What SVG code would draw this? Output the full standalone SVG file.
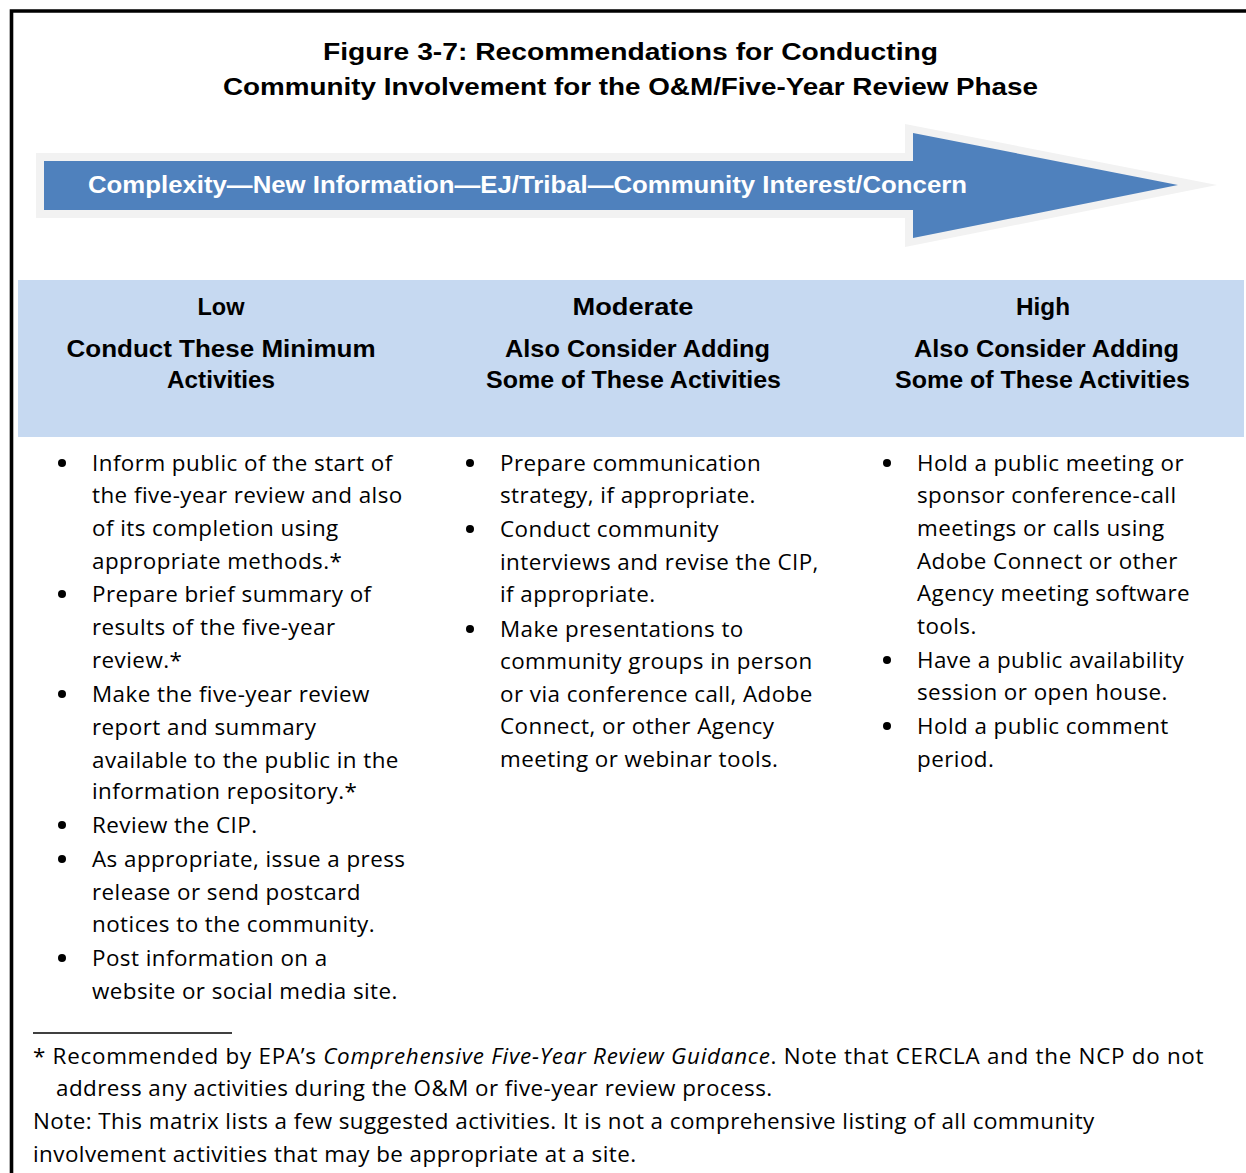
<svg xmlns="http://www.w3.org/2000/svg" width="1246" height="1173" viewBox="0 0 1246 1173">
<style>
.title{font-family:"Liberation Sans",Arial,sans-serif;font-weight:700;font-size:24.5px;fill:#000;text-anchor:middle}
.arrowtxt{font-family:"Liberation Sans",Arial,sans-serif;font-weight:700;font-size:24px;fill:#fff}
.hdr{font-family:"Liberation Sans",Arial,sans-serif;font-weight:700;font-size:24px;fill:#000;text-anchor:middle}
.body{font-family:"Open Sans",Lato,sans-serif;font-size:22.4px;letter-spacing:0.45px;fill:#000}
.foot{font-family:"Open Sans",Lato,sans-serif;font-size:22.4px;letter-spacing:0.45px;fill:#000}
.bul{fill:#000}
</style>
<rect width="1246" height="1173" fill="#fff"/>
<path d="M11.5 1173 V11 H1246" fill="none" stroke="#000" stroke-width="3.6"/>
<g id="title">
<text class="title" x="630.5" y="59.5" textLength="615" lengthAdjust="spacingAndGlyphs">Figure 3-7: Recommendations for Conducting</text>
<text class="title" x="630.5" y="94.5" textLength="815" lengthAdjust="spacingAndGlyphs">Community Involvement for the O&amp;M/Five-Year Review Phase</text>
</g>
<g id="arrow">
<polygon points="36,153 905,153 905,124 1217,185 905,247 905,218 36,218" fill="#f2f2f2"/>
<polygon points="44,161 913,161 913,133 1178,185 913,238 913,210 44,210" fill="#4f81bd"/>
<text class="arrowtxt" x="88" y="193" textLength="879" lengthAdjust="spacingAndGlyphs">Complexity—New Information—EJ/Tribal—Community Interest/Concern</text>
</g>
<g id="header">
<rect x="18" y="280" width="1226" height="157" fill="#c6d9f1"/>
<g id="hdr-low">
<text class="hdr" x="221" y="315" textLength="47" lengthAdjust="spacingAndGlyphs">Low</text>
<text class="hdr" x="221" y="357" textLength="309" lengthAdjust="spacingAndGlyphs">Conduct These Minimum</text>
<text class="hdr" x="221" y="388" textLength="108" lengthAdjust="spacingAndGlyphs">Activities</text>
</g>
<g id="hdr-moderate">
<text class="hdr" x="633" y="315" textLength="121" lengthAdjust="spacingAndGlyphs">Moderate</text>
<text class="hdr" x="637.5" y="357" textLength="265" lengthAdjust="spacingAndGlyphs">Also Consider Adding</text>
<text class="hdr" x="633.5" y="388" textLength="295" lengthAdjust="spacingAndGlyphs">Some of These Activities</text>
</g>
<g id="hdr-high">
<text class="hdr" x="1043" y="315" textLength="54" lengthAdjust="spacingAndGlyphs">High</text>
<text class="hdr" x="1046.5" y="357" textLength="265" lengthAdjust="spacingAndGlyphs">Also Consider Adding</text>
<text class="hdr" x="1042.5" y="388" textLength="295" lengthAdjust="spacingAndGlyphs">Some of These Activities</text>
</g>
</g>
<g id="col-low">
<circle class="bul" cx="62" cy="463" r="4"/>
<circle class="bul" cx="62" cy="594" r="4"/>
<circle class="bul" cx="62" cy="694" r="4"/>
<circle class="bul" cx="62" cy="825" r="4"/>
<circle class="bul" cx="62" cy="859" r="4"/>
<circle class="bul" cx="62" cy="958" r="4"/>
<text class="body" x="92" y="471">Inform public of the start of</text>
<text class="body" x="92" y="503">the five-year review and also</text>
<text class="body" x="92" y="536">of its completion using</text>
<text class="body" x="92" y="569">appropriate methods.*</text>
<text class="body" x="92" y="602">Prepare brief summary of</text>
<text class="body" x="92" y="635">results of the five-year</text>
<text class="body" x="92" y="668">review.*</text>
<text class="body" x="92" y="702">Make the five-year review</text>
<text class="body" x="92" y="735">report and summary</text>
<text class="body" x="92" y="768">available to the public in the</text>
<text class="body" x="92" y="799">information repository.*</text>
<text class="body" x="92" y="833">Review the CIP.</text>
<text class="body" x="92" y="867">As appropriate, issue a press</text>
<text class="body" x="92" y="900">release or send postcard</text>
<text class="body" x="92" y="932">notices to the community.</text>
<text class="body" x="92" y="966">Post information on a</text>
<text class="body" x="92" y="999">website or social media site.</text>
</g>
<g id="col-moderate">
<circle class="bul" cx="470" cy="463" r="4"/>
<circle class="bul" cx="470" cy="529" r="4"/>
<circle class="bul" cx="470" cy="629" r="4"/>
<text class="body" x="500" y="471">Prepare communication</text>
<text class="body" x="500" y="503">strategy, if appropriate.</text>
<text class="body" x="500" y="537">Conduct community</text>
<text class="body" x="500" y="570">interviews and revise the CIP,</text>
<text class="body" x="500" y="602">if appropriate.</text>
<text class="body" x="500" y="637">Make presentations to</text>
<text class="body" x="500" y="669">community groups in person</text>
<text class="body" x="500" y="702">or via conference call, Adobe</text>
<text class="body" x="500" y="734">Connect, or other Agency</text>
<text class="body" x="500" y="767">meeting or webinar tools.</text>
</g>
<g id="col-high">
<circle class="bul" cx="887" cy="463" r="4"/>
<circle class="bul" cx="887" cy="660" r="4"/>
<circle class="bul" cx="887" cy="726" r="4"/>
<text class="body" x="917" y="471">Hold a public meeting or</text>
<text class="body" x="917" y="503">sponsor conference-call</text>
<text class="body" x="917" y="536">meetings or calls using</text>
<text class="body" x="917" y="569">Adobe Connect or other</text>
<text class="body" x="917" y="601">Agency meeting software</text>
<text class="body" x="917" y="634">tools.</text>
<text class="body" x="917" y="668">Have a public availability</text>
<text class="body" x="917" y="700">session or open house.</text>
<text class="body" x="917" y="734">Hold a public comment</text>
<text class="body" x="917" y="767">period.</text>
</g>
<g id="footer">
<line x1="33" y1="1033" x2="232" y2="1033" stroke="#000" stroke-width="1.3"/>
<text class="foot" x="33" y="1064" textLength="1171">* Recommended by EPA’s <tspan font-style="italic">Comprehensive Five-Year Review Guidance</tspan>. Note that CERCLA and the NCP do not</text>
<text class="foot" x="56" y="1096">address any activities during the O&amp;M or five-year review process.</text>
<text class="foot" x="33" y="1129">Note: This matrix lists a few suggested activities. It is not a comprehensive listing of all community</text>
<text class="foot" x="33" y="1162">involvement activities that may be appropriate at a site.</text>
</g>
<g id="connectors"/>
</svg>
